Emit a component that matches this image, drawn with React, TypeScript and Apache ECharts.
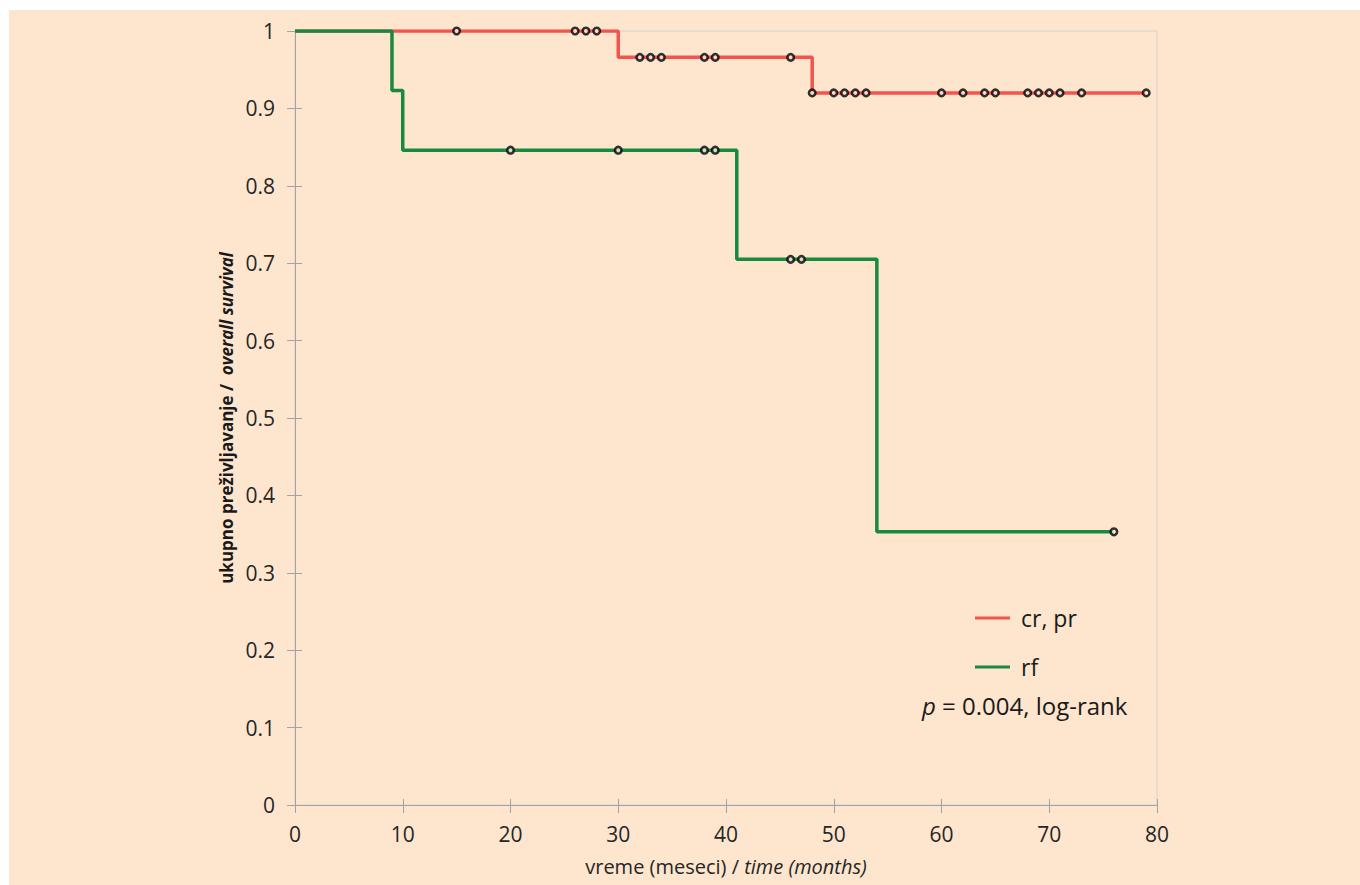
import React, { useEffect, useRef } from "react";
import * as echarts from "echarts";

// Kaplan–Meier step curves (time in months, survival probability)
const crprTimes = [0, 30, 48, 79];
const crprSurv = [1, 0.966, 0.92, 0.92];
const rfTimes = [0, 9, 10, 41, 54, 76];
const rfSurv = [1, 0.923, 0.846, 0.705, 0.353, 0.353];

// Censored observations (months)
const crprCensored = [15, 26, 27, 28, 32, 33, 34, 38, 39, 46, 48, 50, 51, 52, 53, 60, 62, 64, 65, 68, 69, 70, 71, 73, 79];
const rfCensored = [20, 30, 38, 39, 46, 47, 76];

const seriesNames = ["cr, pr", "rf"];
const xTicks = { min: 0, max: 80, interval: 10 };
const yTicks = { min: 0, max: 1, interval: 0.1 };

const RED = "#F4544E";
const GREEN = "#188A40";
const BG = "#FDE5CE";
const FONT = "Open Sans";

function survivalAt(times: number[], surv: number[], t: number) {
  let s = surv[0];
  for (let i = 0; i < times.length; i++) if (times[i] <= t) s = surv[i];
  return s;
}

export default function App() {
  const ref = useRef<HTMLDivElement>(null);
  useEffect(() => {
    if (!ref.current) return;
    const chart = echarts.init(ref.current, null, { renderer: "svg" });
    const axisLineColor = "#A3A3A3";
    const labelStyle = { color: "#262626", fontSize: 21, fontFamily: FONT };
    const censorStyle = { color: "#FFF6EE", borderColor: "#000", borderWidth: 2.6 };
    chart.setOption({
      animation: false,
      backgroundColor: BG,
      grid: {
        left: 286,
        top: 21,
        right: 203,
        bottom: 80,
        show: true,
        borderColor: "#D6D2CE",
        borderWidth: 1,
        backgroundColor: "transparent",
      },
      legend: {
        data: seriesNames,
        orient: "vertical",
        left: 961,
        top: 590,
        icon: "rect",
        itemWidth: 35,
        itemHeight: 3,
        itemGap: 23,
        textStyle: { fontSize: 23, fontFamily: FONT, color: "#1a1a1a", lineHeight: 26, padding: [0, 0, 0, 6] },
      },
      xAxis: [
        {
          type: "value",
          ...xTicks,
          position: "bottom",
          name: "{a|vreme (meseci) / }{b|time (months)}",
          nameLocation: "middle",
          nameGap: 51,
          nameTextStyle: {
            rich: {
              a: { fontSize: 20, fontFamily: FONT, color: "#262626" },
              b: { fontSize: 20, fontFamily: FONT, color: "#262626", fontStyle: "italic" },
            },
          },
          axisLine: { show: true, lineStyle: { color: axisLineColor, width: 1 } },
          axisTick: { show: true, length: 8, lineStyle: { color: axisLineColor } },
          axisLabel: { ...labelStyle, margin: 18 },
          splitLine: { show: false },
        },
        {
          type: "value",
          ...xTicks,
          position: "bottom",
          axisLine: { show: false },
          axisTick: { show: true, inside: true, length: 6, lineStyle: { color: axisLineColor } },
          axisLabel: { show: false },
          splitLine: { show: false },
        },
      ],
      yAxis: [
        {
          type: "value",
          ...yTicks,
          position: "left",
          name: "{a|ukupno preživljavanje /  }{b|overall survival}",
          nameLocation: "middle",
          nameGap: 57,
          nameRotate: 90,
          nameTextStyle: {
            rich: {
              a: { fontSize: 17, fontFamily: FONT, fontWeight: "bold", color: "#1a1a1a" },
              b: { fontSize: 17, fontFamily: FONT, fontWeight: "bold", fontStyle: "italic", color: "#1a1a1a" },
            },
          },
          axisLine: { show: true, lineStyle: { color: axisLineColor, width: 1 } },
          axisTick: { show: true, length: 8, lineStyle: { color: axisLineColor } },
          axisLabel: { ...labelStyle, margin: 20 },
          splitLine: { show: false },
        },
        {
          type: "value",
          ...yTicks,
          position: "left",
          axisLine: { show: false },
          axisTick: { show: true, inside: true, length: 7, lineStyle: { color: axisLineColor } },
          axisLabel: { show: false },
          splitLine: { show: false },
        },
      ],
      graphic: [
        {
          type: "text",
          left: 913,
          top: 683,
          style: {
            text: "{i|p} = 0.004, log-rank",
            fontSize: 24,
            fontFamily: FONT,
            fill: "#1a1a1a",
            rich: { i: { fontStyle: "italic", fontSize: 24, fontFamily: FONT, fill: "#1a1a1a" } },
          },
        },
      ],
      series: [
        {
          name: seriesNames[0],
          type: "line",
          step: "end",
          data: crprTimes.map((t, i) => [t, crprSurv[i]]),
          showSymbol: false,
          color: RED,
          lineStyle: { color: RED, width: 3.5 },
          z: 2,
        },
        {
          name: seriesNames[1],
          type: "line",
          step: "end",
          data: rfTimes.map((t, i) => [t, rfSurv[i]]),
          showSymbol: false,
          color: GREEN,
          lineStyle: { color: GREEN, width: 3.5 },
          z: 3,
        },
        {
          name: "cr, pr censored",
          type: "scatter",
          data: crprCensored.map((t) => [t, survivalAt(crprTimes, crprSurv, t)]),
          symbol: "circle",
          symbolSize: 6.5,
          itemStyle: censorStyle,
          z: 5,
        },
        {
          name: "rf censored",
          type: "scatter",
          data: rfCensored.map((t) => [t, survivalAt(rfTimes, rfSurv, t)]),
          symbol: "circle",
          symbolSize: 6.5,
          itemStyle: censorStyle,
          z: 5,
        },
      ],
    });
    return () => chart.dispose();
  }, []);
  return (
    <div
      ref={ref}
      style={{ position: "absolute", left: 9, top: 10, width: 1351, height: 875 }}
    />
  );
}
